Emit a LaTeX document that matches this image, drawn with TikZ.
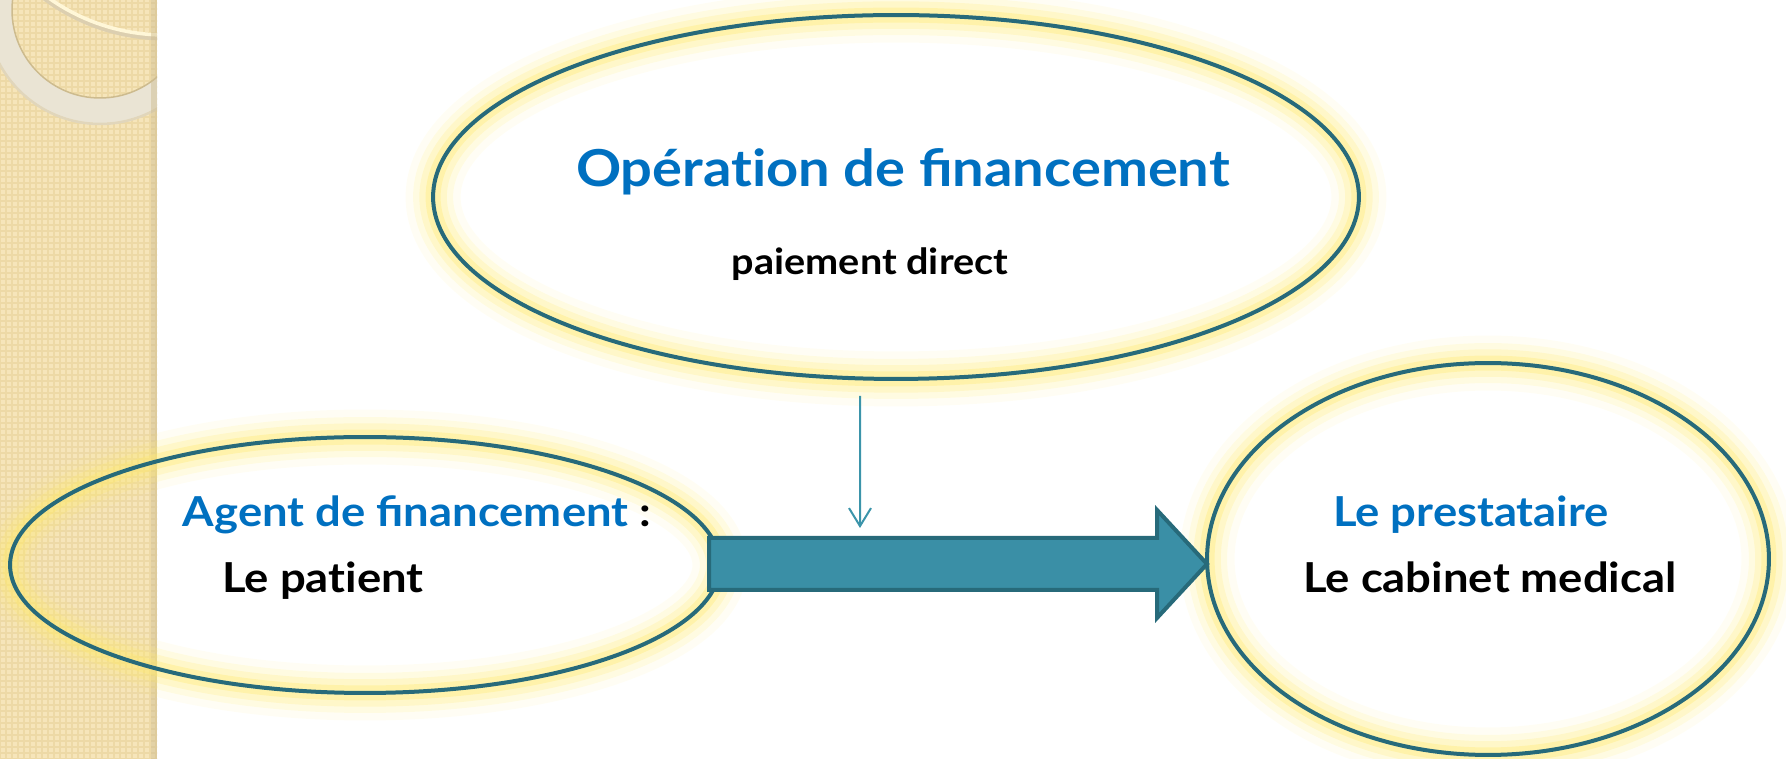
\documentclass[tikz,border=0pt]{standalone}
\usepackage{fontspec}
\setmainfont{Lato}[FakeStretch=1.1]
\usetikzlibrary{shapes.geometric,arrows.meta,patterns.meta}

\definecolor{stripbase}{HTML}{F6E5BA}
\definecolor{stripgrid}{HTML}{EDD9A6}
\definecolor{ringpale}{HTML}{EAE4D4}
\definecolor{ringedge}{HTML}{CDBB8E}
\definecolor{ringcream}{HTML}{FFF7D8}
\definecolor{ringteal}{HTML}{276A7A}
\definecolor{glowyellow}{HTML}{FFEA70}
\definecolor{arrowfill}{HTML}{3A8FA6}
\definecolor{thinteal}{HTML}{3B94AA}
\definecolor{titleblue}{HTML}{0070C0}

\tikzset{
  oval/.style={ellipse, draw=ringteal, line width=0.08cm, inner sep=0pt,
    preaction={draw=glowyellow, line width=1.1cm, draw opacity=0.08},
    preaction={draw=glowyellow, line width=0.8cm, draw opacity=0.14},
    preaction={draw=glowyellow, line width=0.55cm, draw opacity=0.22},
    preaction={draw=glowyellow, line width=0.3cm, draw opacity=0.35}},
  bluetxt/.style={text=titleblue, anchor=base, inner sep=0pt,
    font=\bfseries\fontsize{23.5pt}{26pt}\selectfont},
  blacktxt/.style={text=black, anchor=base, inner sep=0pt,
    font=\bfseries\fontsize{23.5pt}{26pt}\selectfont},
  bigflow/.style={fill=arrowfill, draw=ringteal, line width=0.08cm, line join=miter},
  thinflow/.style={draw=thinteal, line width=0.04cm,
    -{Straight Barb[length=0.36cm,width=0.44cm,line width=0.04cm]}}
}

\begin{document}
\begin{tikzpicture}[x=0.02cm,y=-0.02cm]
\useasboundingbox (0,0) rectangle (1786,759);
\clip (0,0) rectangle (1786,759);

\begin{scope}
\clip (0,0) rectangle (157,759);
\fill[stripbase] (0,0) rectangle (157,759);
\fill[pattern={Lines[distance=0.12cm,angle=0,line width=0.035cm]}, pattern color=stripgrid] (0,0) rectangle (157,759);
\fill[pattern={Lines[distance=0.12cm,angle=90,line width=0.035cm]}, pattern color=stripgrid] (0,0) rectangle (157,759);
\fill[ringpale, even odd rule] (100,10) circle[radius=113] (100,10) circle[radius=88];
\draw[ringedge, line width=0.03cm] (100,10) circle[radius=88];
\draw[ringedge!60, line width=0.05cm] (100,10) circle[radius=114];
\draw[ringedge!70, line width=0.1cm] (165,-164) circle[radius=202];
\draw[ringcream, line width=0.07cm] (165,-166) circle[radius=201];
\fill[ringedge, opacity=0.45] (151,0) rectangle (157,759);
\end{scope}

\node[oval, minimum width=18.52cm, minimum height=7.28cm] (oper) at (896,197) {};
\node[oval, minimum width=14.2cm, minimum height=5.12cm] (agent) at (365,565) {};
\node[oval, minimum width=11.24cm, minimum height=7.84cm] (prest) at (1488,559) {};

\node[bluetxt, font=\bfseries\fontsize{29pt}{32pt}\selectfont] (opertitle) at (903,187) {Opérat\kern0pt ion de financement};
\node[blacktxt, font=\bfseries\fontsize{20.5pt}{23pt}\selectfont] (opersub) at (870,275) {paiement direct};
\node[bluetxt] (agenttitle) at (417,527) {Agent de financement \textcolor{black}{:}};
\node[blacktxt] (agentname) at (323,593) {Le pat\kern0pt ient};
\node[bluetxt] (presttitle) at (1471,527) {Le prestataire};
\node[blacktxt] (prestname) at (1490,593) {Le cabinet medical};

\coordinate (droptop) at ([xshift=-0.72cm,yshift=-0.3cm]oper.south);
\coordinate (dropend) at (860,528);
\draw[thinflow] (droptop) -- (dropend);

\coordinate (flowtail) at (709,564);
\coordinate (flowtip) at (1207,564);
\draw[bigflow] (flowtail) ++(0,-26) -- ++(448,0) -- ++(0,-28) -- (flowtip) -- ++(-50,54) -- ++(0,-28) -- ++(-448,0) -- cycle;
\end{tikzpicture}
\end{document}
